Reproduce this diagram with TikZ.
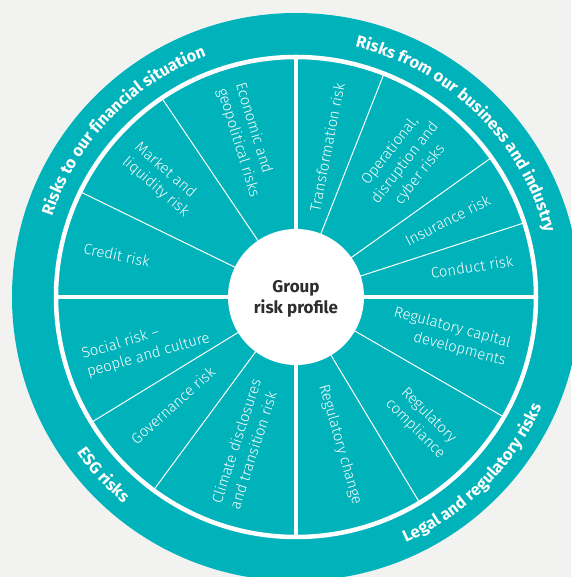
\documentclass[tikz,border=0pt]{standalone}
\usepackage{fontspec}
\setmainfont{Fira Sans}[UprightFont={* Light},BoldFont={* Bold}]
\usetikzlibrary{decorations.text}
\definecolor{wheelteal}{RGB}{0,178,186}
\definecolor{bggray}{RGB}{242,242,241}
\definecolor{centretext}{RGB}{45,45,45}
\tikzset{
  seclabel/.style={text=white, inner sep=0pt, font=\fontsize{15}{19}\selectfont},
  thindiv/.style={draw=white, line width=1pt},
  thickdiv/.style={draw=white, line width=4.5pt},
  ringtext/.style={decorate, decoration={text along path, text align=center, text color=white}},
}
\newcommand{\ringfont}{\fontsize{16.5}{19}\selectfont\bfseries}
\begin{document}
\begin{tikzpicture}[x=1pt,y=1pt]
\useasboundingbox (-296,-280) rectangle (275,297);
\fill[bggray] (-296,-280) rectangle (275,297);
\coordinate (O) at (0,0);
% outer disk
\fill[wheelteal] (O) circle[radius=284];
% white ring
\draw[white, line width=4.5pt] (O) circle[radius=240];
% thin dividers
\foreach \a/\n in {154/a,124/b,68.5/c,35.5/d,18/e,-30/f,-59/g,211.5/h,233.6/i}{
  \coordinate (d\n) at (\a:240);
  \draw[thindiv] (O) -- (d\n);
}
% thick dividers
\coordinate (E) at (0:240);
\coordinate (W) at (180:240);
\coordinate (N) at (90:240);
\coordinate (S) at (270:240);
\draw[thickdiv] (W) -- (E);
\draw[thickdiv] (S) -- (N);
% centre disk
\fill[white] (O) circle[radius=68];
\node[align=center, text=centretext, font=\fontsize{17}{20.5}\selectfont\bfseries] (centre) at (0,-2) {Group\\risk profile};

% sector labels - top left
\node[seclabel, rotate=-12] (credit) at (166.8:184) {Credit risk};
\node[seclabel, rotate=-41, align=left] (market) at (138.9:178) {Market and\\liquidity risk};
\node[seclabel, rotate=-73, align=left] (econ) at (107.3:164.5) {Economic and\\geopolitical risks};
% top right
\node[seclabel, rotate=79] (transf) at (78.3:153) {Transformation risk};
\node[seclabel, rotate=52, align=center] (oper) at (50.9:173) {Operational,\\disruption and\\cyber risks};
\node[seclabel, rotate=27] (insur) at (26.9:170) {Insurance risk};
\node[seclabel, rotate=9] (conduct) at (9.7:178.5) {Conduct risk};
% bottom right
\node[seclabel, rotate=-15, align=right] (regcap) at (-14.6:159) {Regulatory capital\\developments};
\node[seclabel, rotate=-45, align=center] (regcomp) at (-44.8:177.5) {Regulatory\\compliance};
\node[seclabel, rotate=-74] (regchange) at (-73.4:154) {Regulatory change};
% bottom left
\node[seclabel, rotate=16, align=left] (social) at (198.2:158) {Social risk –\\people and culture};
\node[seclabel, rotate=42] (gov) at (221.3:164) {Governance risk};
\node[seclabel, rotate=72, align=left] (climate) at (250.9:155.6) {Climate disclosures\\and transition risk};

% outer ring labels
\path[ringtext, decoration={text={|\ringfont|Risks to our financial situation}}]
  (186:257) arc[start angle=186, end angle=86, radius=257];
\path[ringtext, decoration={text={|\ringfont|Risks from our business and industry}}]
  (96:257) arc[start angle=96, end angle=-4.8, radius=257];
\path[ringtext, decoration={text={|\ringfont|Legal and regulatory risks}}]
  (-95:269) arc[start angle=-95, end angle=5, radius=269];
\path[ringtext, decoration={text={|\ringfont|ESG risks}}]
  (180:269) arc[start angle=180, end angle=265.4, radius=269];
\end{tikzpicture}
\end{document}
